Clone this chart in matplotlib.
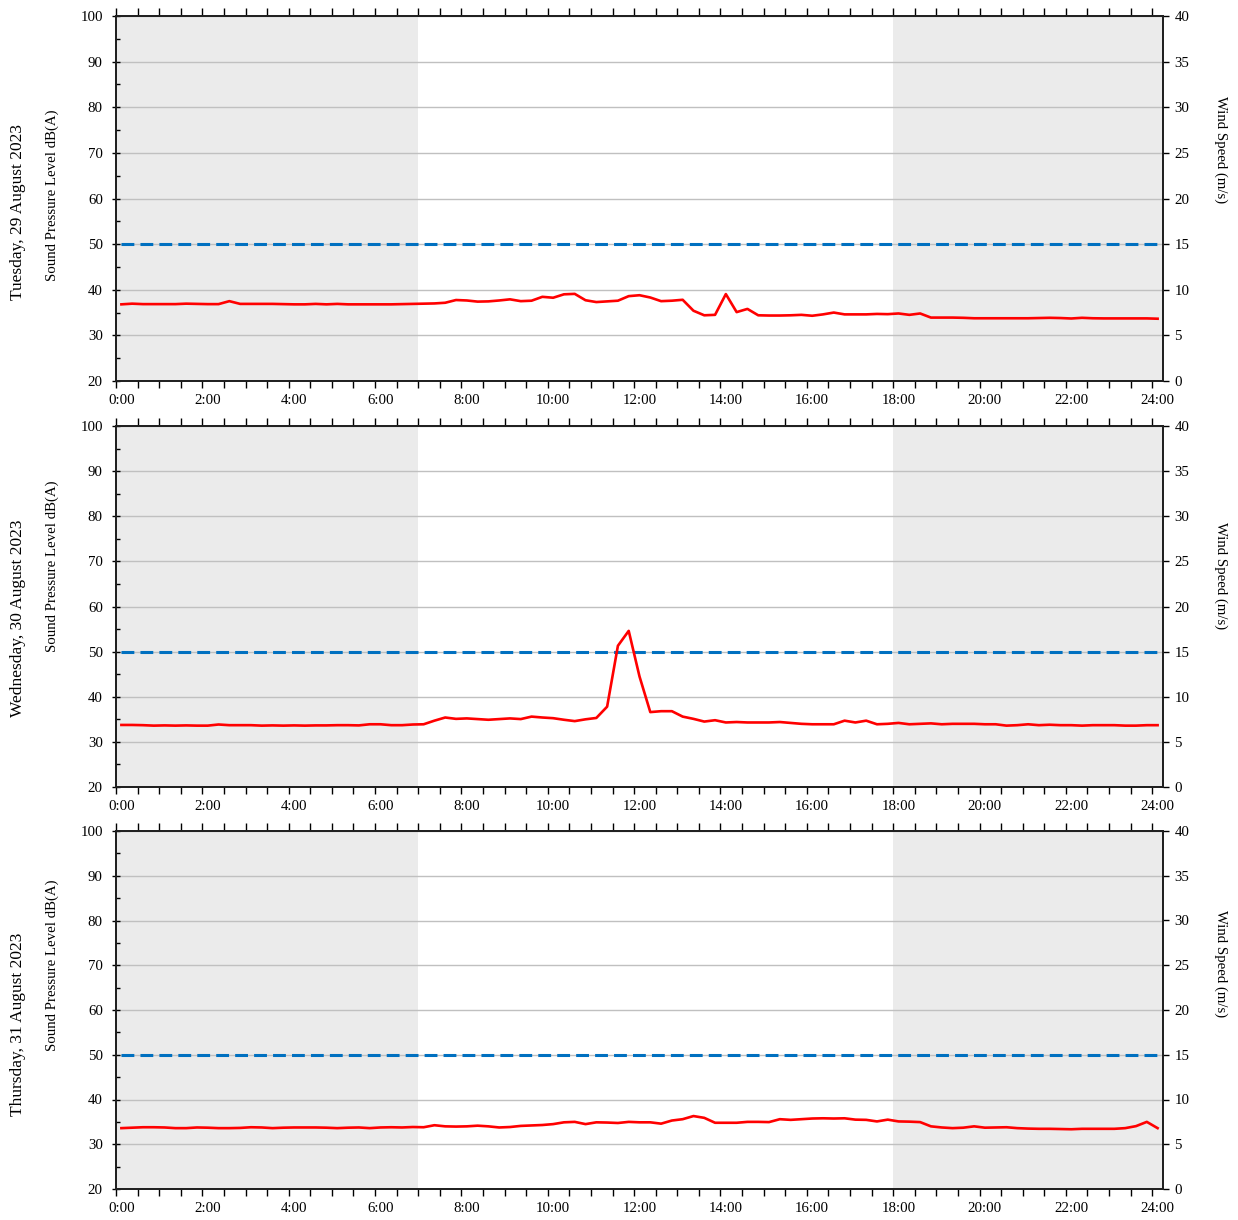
import numpy as np
import matplotlib.pyplot as plt
from matplotlib.ticker import FixedLocator, MultipleLocator

plt.rcParams['font.family'] = ['Liberation Serif', 'DejaVu Serif']

# 15-minute readings from 0:00 to 24:00
HOURS = np.arange(97) / 4

DAYS = ['Tuesday, 29 August 2023', 'Wednesday, 30 August 2023', 'Thursday, 31 August 2023']

SPL_TUE = [36.8, 36.95, 36.85, 36.85, 36.85, 36.85, 36.95, 36.9, 36.85, 36.85,
           37.5, 36.9, 36.9, 36.9, 36.9, 36.85, 36.8, 36.8, 36.9, 36.8,
           36.9, 36.8, 36.8, 36.8, 36.8, 36.8, 36.85, 36.9, 36.95, 37.0,
           37.15, 37.75, 37.65, 37.4, 37.45, 37.65, 37.9, 37.5, 37.6, 38.45,
           38.25, 39.0, 39.1, 37.7, 37.3, 37.45, 37.6, 38.6, 38.8, 38.3,
           37.5, 37.6, 37.8, 35.4, 34.4, 34.5, 39.05, 35.1, 35.8, 34.4,
           34.35, 34.35, 34.4, 34.5, 34.3, 34.6, 35.0, 34.6, 34.6, 34.6,
           34.7, 34.65, 34.8, 34.5, 34.8, 33.9, 33.9, 33.9, 33.85, 33.75,
           33.75, 33.75, 33.75, 33.75, 33.75, 33.8, 33.85, 33.8, 33.7, 33.85,
           33.75, 33.72, 33.72, 33.72, 33.72, 33.72, 33.65]

SPL_WED = [33.75, 33.75, 33.7, 33.6, 33.65, 33.6, 33.65, 33.6, 33.6, 33.85,
           33.7, 33.7, 33.7, 33.6, 33.65, 33.6, 33.65, 33.6, 33.65, 33.65,
           33.7, 33.7, 33.65, 33.9, 33.9, 33.7, 33.7, 33.85, 33.9, 34.7,
           35.4, 35.1, 35.2, 35.05, 34.9, 35.05, 35.2, 35.05, 35.6, 35.4,
           35.25, 34.9, 34.6, 35.0, 35.3, 37.8, 51.3, 54.6, 44.5, 36.6,
           36.8, 36.8, 35.6, 35.1, 34.5, 34.8, 34.3, 34.4, 34.3, 34.3,
           34.3, 34.4, 34.2, 34.0, 33.9, 33.9, 33.9, 34.7, 34.3, 34.7,
           33.9, 34.0, 34.2, 33.9, 34.0, 34.1, 33.9, 34.0, 34.0, 34.0,
           33.9, 33.9, 33.6, 33.7, 33.9, 33.7, 33.8, 33.7, 33.7, 33.6,
           33.7, 33.7, 33.7, 33.6, 33.6, 33.7, 33.7]

SPL_THU = [33.6, 33.7, 33.8, 33.8, 33.75, 33.6, 33.6, 33.75, 33.7, 33.6,
           33.6, 33.65, 33.8, 33.75, 33.6, 33.7, 33.75, 33.75, 33.75, 33.7,
           33.6, 33.7, 33.75, 33.6, 33.75, 33.8, 33.75, 33.85, 33.8, 34.25,
           34.0, 33.95, 34.0, 34.15, 34.0, 33.75, 33.85, 34.1, 34.2, 34.3,
           34.5, 34.9, 35.0, 34.5, 34.9, 34.85, 34.75, 35.0, 34.9, 34.9,
           34.6, 35.3, 35.6, 36.3, 35.9, 34.8, 34.8, 34.8, 35.0, 35.0,
           34.95, 35.6, 35.45, 35.6, 35.75, 35.8, 35.75, 35.8, 35.5, 35.45,
           35.1, 35.5, 35.1, 35.05, 34.95, 34.0, 33.75, 33.6, 33.7, 34.0,
           33.7, 33.75, 33.8, 33.6, 33.5, 33.45, 33.45, 33.4, 33.35, 33.45,
           33.45, 33.45, 33.45, 33.6, 34.05, 35.0, 33.6]

SERIES = [SPL_TUE, SPL_WED, SPL_THU]

LIMIT_DB = 50          # noise limit line
NIGHT_END = 7          # shaded night periods
NIGHT_START = 18
HOUR_LABELS = ['%d:00' % h for h in range(0, 25, 2)]

W, H = 1238, 1220
fig = plt.figure(figsize=(W / 100, H / 100), dpi=100)

# pixel boxes (top, bottom) for each day's panel
boxes = [(16, 381), (426, 787), (831, 1189)]
day_y = [212, 618, 1024]
spl_y = [195, 566, 965]
wind_y = [150, 576, 964]

half = 0.125  # half a 15-minute slot
for k, (top, bot) in enumerate(boxes):
    ax = fig.add_axes([116 / W, 1 - bot / H, (1163 - 116) / W, (bot - top) / H])
    ax.set_xlim(HOURS[0] - half, HOURS[-1] + half)
    ax.set_ylim(20, 100)

    ax.axvspan(HOURS[0] - half, NIGHT_END - half, color='#ebebeb', lw=0, zorder=0)
    ax.axvspan(NIGHT_START - half, HOURS[-1] + half, color='#ebebeb', lw=0, zorder=0)

    ax.set_axisbelow(True)
    ax.yaxis.grid(True, color='#c0c0c0', lw=1.0)

    ax.plot(HOURS[[0, -1]], [LIMIT_DB, LIMIT_DB], color='#0070c0', lw=2.2,
            linestyle=(0, (4.2, 2.0)), zorder=2)
    ax.plot(HOURS, SERIES[k], color='#ff0000', lw=1.9, zorder=3)

    ax.set_xticks(range(0, 25, 2))
    ax.set_xticklabels(HOUR_LABELS)
    ax.xaxis.set_minor_locator(FixedLocator(np.arange(49) * 0.5 - half))
    ax.tick_params(axis='x', which='major', length=0, pad=9, labelsize=10.7)
    ax.tick_params(axis='x', which='minor', bottom=True, top=True,
                   direction='out', length=5, width=1.0)
    # top ticks stand a little taller than the bottom ones
    for t in ax.xaxis.get_minor_ticks():
        t.tick2line.set_markersize(6)

    ax.set_yticks(range(20, 101, 10))
    ax.yaxis.set_minor_locator(MultipleLocator(5))
    ax.tick_params(axis='y', which='major', direction='inout', length=6,
                   width=1.0, pad=6.5, labelsize=10.7)
    ax.tick_params(axis='y', which='minor', direction='in', length=3, width=1.0)

    for s in ax.spines.values():
        s.set_color('#202020')
        s.set_linewidth(1.3)

    ax2 = ax.twinx()
    ax2.set_ylim(0, 40)
    ax2.set_yticks(range(0, 41, 5))
    ax2.tick_params(axis='y', direction='out', length=4, width=1.0, pad=4.3,
                    labelsize=10.7)
    for s in ax2.spines.values():
        s.set_color('#202020')
        s.set_linewidth(1.3)

    fig.text(18 / W, 1 - day_y[k] / H, DAYS[k], rotation=90, ha='center',
             va='center', fontsize=12.5)
    fig.text(52 / W, 1 - spl_y[k] / H, 'Sound Pressure Level dB(A)', rotation=90,
             ha='center', va='center', fontsize=10.7)
    fig.text(1221 / W, 1 - wind_y[k] / H, 'Wind Speed (m/s)', rotation=270,
             ha='center', va='center', fontsize=10.6)

fig.savefig('out.png', dpi=100)
